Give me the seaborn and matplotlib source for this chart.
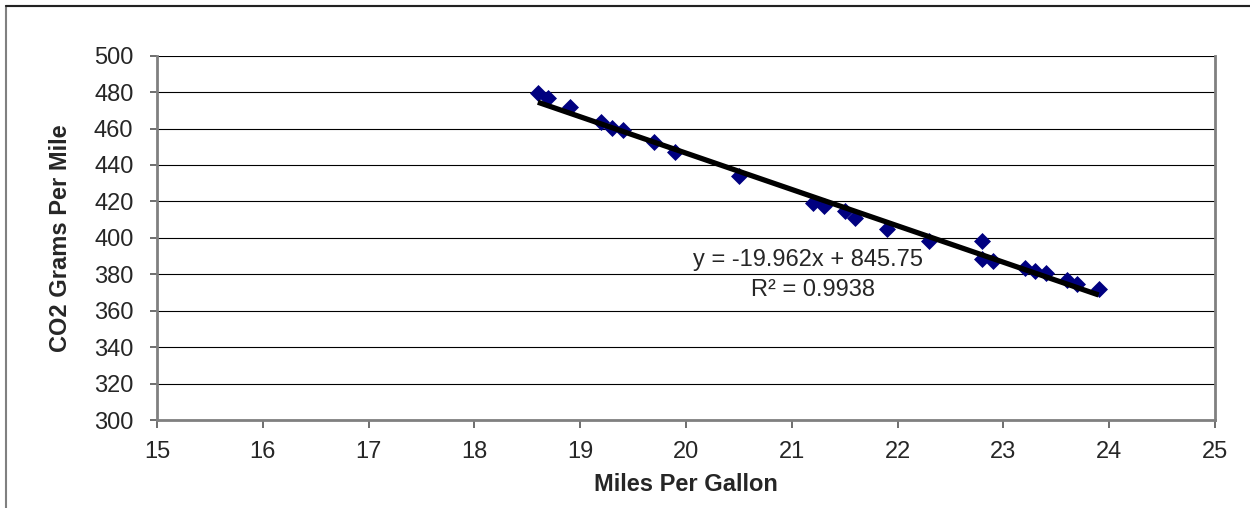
import numpy as np
import pandas as pd
import matplotlib
matplotlib.use("Agg")
import matplotlib.pyplot as plt
import seaborn as sns
from matplotlib.patches import Rectangle

# data
mpg = [18.6, 18.7, 18.9, 19.2, 19.3, 19.4, 19.7, 19.9, 20.5,
       21.2, 21.3, 21.5, 21.6, 21.9, 22.3, 22.8, 22.8, 22.9,
       23.2, 23.3, 23.4, 23.6, 23.7, 23.9]
co2 = [479.5, 476.5, 471.8, 463.4, 460.3, 459.3, 452.4, 447.3, 433.7,
       419.1, 417.6, 415.0, 410.8, 404.8, 398.0, 398.4, 388.5, 387.5,
       383.3, 382.0, 380.9, 376.9, 374.6, 372.0]
slope = -19.962
intercept = 845.75
r2 = 0.9938
x_ticks = list(range(15, 26))
y_ticks = list(range(300, 501, 20))

df = pd.DataFrame({"mpg": mpg, "co2": co2})

sns.set_style("white")
plt.rcParams["font.family"] = ["Liberation Sans", "DejaVu Sans"]

fig = plt.figure(figsize=(12.5, 5.08), dpi=100)
ax = fig.add_axes([0.1256, 0.1732, 0.972 - 0.1256, 0.8904 - 0.1732])

# outer chart frame
fig.patches.append(Rectangle((6 / 1250, -0.1), 1.2, 1 - 6 / 508 + 0.1,
                             transform=fig.transFigure, fill=False,
                             edgecolor="#808080", linewidth=1.5, zorder=0))
fig.lines.append(plt.Line2D([6 / 1250, 1], [1 - 6 / 508, 1 - 6 / 508],
                            transform=fig.transFigure, color="#222222", lw=1.5))

# gridlines
for yv in y_ticks:
    ax.axhline(yv, color="black", lw=0.8, zorder=1)

# trendline
xl = np.array([min(mpg), max(mpg)])
ax.plot(xl, slope * xl + intercept, color="black", lw=3.8, zorder=3,
        solid_capstyle="butt")

sns.scatterplot(data=df, x="mpg", y="co2", marker="D", s=75, color="#000080",
                edgecolor="#000080", linewidth=0, ax=ax, zorder=2)

ax.set_xlim(15, 25)
ax.set_ylim(300, 500)
ax.set_xticks(x_ticks)
ax.set_yticks(y_ticks)
ax.tick_params(axis="both", labelsize=17, direction="out", width=1.2,
               color="#555555", left=True, bottom=True)
ax.tick_params(axis="x", length=6, pad=9)
ax.tick_params(axis="y", length=5, pad=12)
ax.set_xlabel("Miles Per Gallon", fontsize=17, fontweight="bold", labelpad=7)
ax.set_ylabel("CO2 Grams Per Mile", fontsize=17, fontweight="bold", labelpad=16)

for side in ["left", "bottom", "right"]:
    ax.spines[side].set_color("#808080")
    ax.spines[side].set_linewidth(2)
ax.spines["top"].set_visible(False)

ax.text(21.15, 388, f"y = {slope}x + {intercept}", fontsize=17,
        ha="center", va="center", zorder=4)
ax.text(21.2, 371.5, f"R² = {r2}", fontsize=17,
        ha="center", va="center", zorder=4)

fig.savefig("out.png", dpi=100)
